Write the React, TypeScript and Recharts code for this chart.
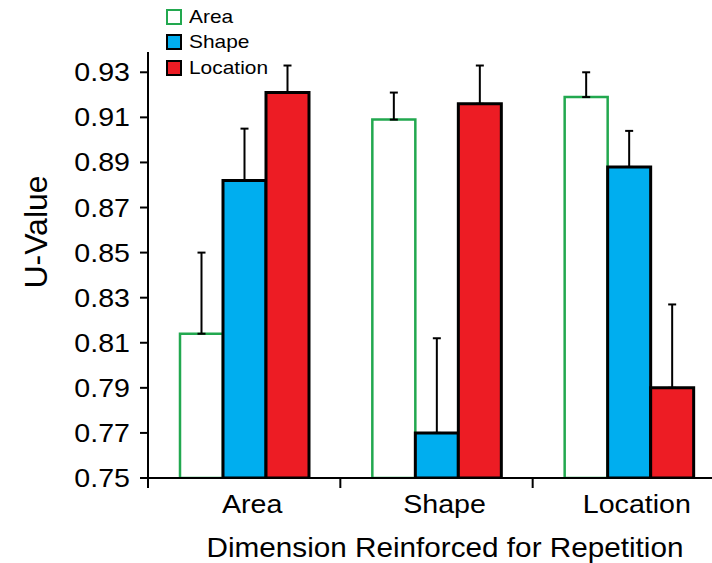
import { BarChart, Bar, XAxis, YAxis, ErrorBar, Legend } from 'recharts'

const categories = ['Area', 'Shape', 'Location']
const areaValues = [0.814, 0.909, 0.919]
const areaErrors = [0.036, 0.012, 0.011]
const shapeValues = [0.882, 0.77, 0.888]
const shapeErrors = [0.023, 0.042, 0.016]
const locationValues = [0.921, 0.916, 0.79]
const locationErrors = [0.012, 0.017, 0.037]
const yTicks = [0.75, 0.77, 0.79, 0.81, 0.83, 0.85, 0.87, 0.89, 0.91, 0.93]

const seriesNames = ['Area', 'Shape', 'Location']
const GREEN = '#22a84f'
const BLUE = '#00aeef'
const RED = '#ed1c24'

const FONT = '"Liberation Sans", Arial, Helvetica, sans-serif'
const STRETCH = 1.1

const CHART_W = 740
const CHART_H = 563
const YAXIS_W = 148
const RIGHT = 15
const BAND = (CHART_W - YAXIS_W - RIGHT) / categories.length

// one-sided error: only the upper part is drawn
const data = categories.map((c, i) => ({
  name: c,
  area: areaValues[i],
  areaErr: [0, areaErrors[i]],
  shape: shapeValues[i],
  shapeErr: [0, shapeErrors[i]],
  location: locationValues[i],
  locationErr: [0, locationErrors[i]],
}))

function StretchText({ x, y, anchor, size, children }: any) {
  return (
    <text
      transform={`translate(${x},${y}) scale(${STRETCH},1)`}
      textAnchor={anchor}
      fontSize={size}
      fontFamily={FONT}
      fill="#000"
    >
      {children}
    </text>
  )
}

const YTick = ({ x, y, payload }: any) => (
  <StretchText x={x} y={y + 9} anchor="end" size={26}>
    {payload.value.toFixed(2)}
  </StretchText>
)

const XTick = ({ x, y, payload }: any) => (
  <g>
    <line x1={x - BAND / 2} x2={x - BAND / 2} y1={y} y2={y + 10} stroke="#000" strokeWidth={2} />
    <StretchText x={x + 8} y={y + 35} anchor="middle" size={26}>
      {payload.value}
    </StretchText>
  </g>
)

const XTitle = () => (
  <StretchText x={445} y={557} anchor="middle" size={27}>
    Dimension Reinforced for Repetition
  </StretchText>
)

const YTitle = () => (
  <text
    transform="translate(47,232) rotate(-90)"
    textAnchor="middle"
    fontSize={32}
    fontFamily={FONT}
    fill="#000"
  >
    U-Value
  </text>
)

const legendItems = [
  { name: seriesNames[0], fill: '#fff', stroke: GREEN },
  { name: seriesNames[1], fill: BLUE, stroke: '#000' },
  { name: seriesNames[2], fill: RED, stroke: '#000' },
]

const renderLegend = () => (
  <div style={{ fontFamily: FONT }}>
    {legendItems.map(it => (
      <div key={it.name} style={{ display: 'flex', alignItems: 'center', height: 25.5 }}>
        <div
          style={{
            width: 12,
            height: 12,
            background: it.fill,
            border: `2px solid ${it.stroke}`,
            marginRight: 7,
          }}
        />
        <span
          style={{
            fontSize: 19,
            color: '#000',
            display: 'inline-block',
            transform: `scaleX(${STRETCH})`,
            transformOrigin: 'left center',
          }}
        >
          {it.name}
        </span>
      </div>
    ))}
  </div>
)

export default function App() {
  return (
    <div
      style={{
        position: 'absolute',
        left: 0,
        top: 0,
        width: 712,
        height: 563,
        overflow: 'hidden',
        background: '#fff',
      }}
    >
      <BarChart
        width={CHART_W}
        height={CHART_H}
        data={data}
        margin={{ top: 52, right: RIGHT, left: 0, bottom: 0 }}
        barCategoryGap={32}
        barGap={0}
      >
        <XAxis
          dataKey="name"
          height={85}
          tickLine={false}
          tickSize={0}
          tickMargin={0}
          axisLine={{ stroke: '#000', strokeWidth: 2 }}
          tick={<XTick />}
          label={<XTitle />}
        />
        <YAxis
          width={YAXIS_W}
          domain={[0.75, 0.939]}
          ticks={yTicks}
          allowDataOverflow
          tickSize={8}
          tickMargin={10}
          tickLine={{ stroke: '#000', strokeWidth: 2 }}
          axisLine={{ stroke: '#000', strokeWidth: 2 }}
          tick={<YTick />}
          label={<YTitle />}
        />
        <Legend
          layout="vertical"
          align="center"
          verticalAlign="middle"
          wrapperStyle={{ left: 166, top: 4, width: 'auto' }}
          content={renderLegend}
        />
        <Bar dataKey="area" name={seriesNames[0]} fill="#fff" stroke={GREEN} strokeWidth={2.5} isAnimationActive={false}>
          <ErrorBar dataKey="areaErr" direction="y" width={4} stroke="#000" strokeWidth={2} />
        </Bar>
        <Bar dataKey="shape" name={seriesNames[1]} fill={BLUE} stroke="#000" strokeWidth={3} isAnimationActive={false}>
          <ErrorBar dataKey="shapeErr" direction="y" width={4} stroke="#000" strokeWidth={2} />
        </Bar>
        <Bar dataKey="location" name={seriesNames[2]} fill={RED} stroke="#000" strokeWidth={3} isAnimationActive={false}>
          <ErrorBar dataKey="locationErr" direction="y" width={4} stroke="#000" strokeWidth={2} />
        </Bar>
      </BarChart>
    </div>
  )
}
